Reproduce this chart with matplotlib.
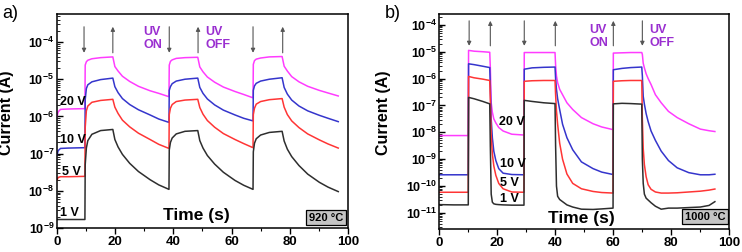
import numpy as np
import matplotlib
matplotlib.use("Agg")
import matplotlib.pyplot as plt
from matplotlib.ticker import LogLocator, NullFormatter, MultipleLocator

plt.rcParams['font.family'] = ['Liberation Sans', 'DejaVu Sans']
plt.rcParams['font.weight'] = 'bold'
plt.rcParams['mathtext.fontset'] = 'custom'
plt.rcParams['mathtext.default'] = 'bf'
plt.rcParams['mathtext.bf'] = 'Liberation Sans:bold'
plt.rcParams['mathtext.rm'] = 'Liberation Sans:bold'

# ---- panel a (920 C), log10 of current in A ----
t_a = [0, 0.4, 1.2, 4, 9.6,
       9.7, 10.1, 10.6, 12, 15, 19.2,
       19.9, 21, 22.5, 25, 28, 32, 35, 38.5,
       38.6, 39.0, 39.6, 41, 44, 48.4,
       49.1, 50.2, 51.7, 54.2, 57.2, 61.2, 64.2, 67.4,
       67.5, 67.9, 68.5, 70, 73, 77.4,
       78.1, 79.2, 80.7, 83.2, 86.2, 90.2, 93.2, 96.7]
v20_a = [-6.01, -5.88, -5.81, -5.80, -5.79,
         -4.62, -4.53, -4.49, -4.45, -4.42, -4.40,
         -4.66, -4.78, -4.92, -5.06, -5.19, -5.31, -5.38, -5.47,
         -4.62, -4.52, -4.48, -4.44, -4.42, -4.41,
         -4.67, -4.80, -4.94, -5.08, -5.21, -5.33, -5.41, -5.50,
         -4.60, -4.50, -4.46, -4.43, -4.40, -4.39,
         -4.65, -4.78, -4.93, -5.07, -5.19, -5.30, -5.37, -5.45]
v10_a = [-7.04, -6.92, -6.86, -6.85, -6.84,
         -5.55, -5.25, -5.15, -5.07, -5.01, -4.97,
         -5.20, -5.36, -5.52, -5.68, -5.82, -5.96, -6.07, -6.16,
         -5.30, -5.20, -5.12, -5.05, -5.00, -4.97,
         -5.22, -5.38, -5.53, -5.69, -5.83, -5.96, -6.05, -6.12,
         -5.30, -5.18, -5.11, -5.05, -5.00, -4.96,
         -5.22, -5.40, -5.56, -5.72, -5.85, -5.97, -6.05, -6.14]
v5_a = [-7.71, -7.64, -7.62, -7.62, -7.61,
        -6.30, -5.85, -5.72, -5.62, -5.57, -5.54,
        -5.75, -5.92, -6.10, -6.28, -6.45, -6.62, -6.75, -6.86,
        -5.95, -5.78, -5.68, -5.60, -5.56, -5.54,
        -5.76, -5.94, -6.11, -6.29, -6.46, -6.62, -6.73, -6.84,
        -5.95, -5.78, -5.67, -5.60, -5.55, -5.52,
        -5.75, -5.95, -6.12, -6.30, -6.47, -6.63, -6.74, -6.85]
v1_a = [-8.77, -8.77, -8.77, -8.77, -8.77,
        -7.30, -6.85, -6.65, -6.48, -6.38, -6.35,
        -6.62, -6.82, -7.02, -7.26, -7.48, -7.70, -7.84, -7.96,
        -6.90, -6.70, -6.58, -6.47, -6.40, -6.38,
        -6.65, -6.85, -7.05, -7.28, -7.50, -7.72, -7.85, -7.96,
        -6.95, -6.72, -6.60, -6.50, -6.43, -6.40,
        -6.66, -6.88, -7.08, -7.32, -7.55, -7.77, -7.90, -8.02]

# ---- panel b (1000 C) ----
t_b = [0, 5, 10.0,
       10.1, 12, 15, 17.4,
       17.6, 17.9, 18.3, 18.8, 19.5, 20.5, 22, 25, 29.2,
       29.3, 32, 36, 39.9,
       40.1, 40.4, 40.8, 41.5, 42.5, 44, 46, 49, 53, 56, 59.9,
       60.0, 63, 66, 69.8,
       70.0, 70.3, 70.7, 71.3, 72, 73, 74.5, 76.5, 79, 82, 86, 90, 93, 95]
v20_b = [-8.12, -8.12, -8.12,
         -4.95, -4.98, -5.00, -5.02,
         -5.60, -6.90, -7.25, -7.50, -7.65, -7.82, -7.95, -8.07, -8.10,
         -5.03, -5.03, -5.03, -5.03,
         -5.50, -5.90, -6.15, -6.40, -6.60, -6.90, -7.15, -7.45, -7.68, -7.80, -7.90,
         -5.05, -5.04, -5.03, -5.03,
         -5.10, -5.43, -5.60, -5.82, -6.00, -6.22, -6.60, -6.90, -7.22, -7.45, -7.68, -7.88, -7.94, -7.97]
v10_b = [-9.58, -9.58, -9.58,
         -5.45, -5.48, -5.54, -5.59,
         -6.30, -7.50, -8.20, -8.70, -9.05, -9.35, -9.52, -9.57, -9.58,
         -5.65, -5.60, -5.58, -5.57,
         -6.00, -6.40, -6.75, -7.15, -7.70, -8.20, -8.65, -9.10, -9.35, -9.48, -9.57,
         -5.67, -5.62, -5.59, -5.57,
         -5.90, -6.66, -6.95, -7.30, -7.60, -7.95, -8.30, -8.70, -9.05, -9.32, -9.50, -9.58, -9.58, -9.56]
v5_b = [-10.23, -10.23, -10.23,
        -5.92, -5.97, -6.02, -6.07,
        -6.80, -8.10, -8.80, -9.25, -9.60, -9.90, -10.10, -10.22, -10.23,
        -6.10, -6.08, -6.07, -6.07,
        -6.60, -7.20, -7.70, -8.40, -9.00, -9.55, -9.90, -10.10, -10.20, -10.24, -10.26,
        -6.10, -6.08, -6.07, -6.07,
        -7.50, -8.60, -9.20, -9.65, -9.95, -10.12, -10.22, -10.26, -10.26, -10.25, -10.22, -10.19, -10.15, -10.11]
v1_b = [-10.69, -10.70, -10.70,
        -6.70, -6.75, -6.85, -6.94,
        -8.50, -10.30, -10.60, -10.66, -10.68, -10.69, -10.70, -10.71, -10.71,
        -6.81, -6.85, -6.90, -6.93,
        -8.50, -10.00, -10.38, -10.50, -10.58, -10.70, -10.78, -10.86, -10.87, -10.85, -10.82,
        -6.94, -6.92, -6.93, -6.95,
        -9.00, -9.90, -10.30, -10.45, -10.52, -10.62, -10.75, -10.86, -10.82, -10.82, -10.80, -10.78, -10.72, -10.58]

labels = ['20 V', '10 V', '5 V', '1 V']
colors = ['#ff3cff', '#3535cc', '#ff3535', '#2e2e2e']

# UV on/off arrow times
down_a = [9.3, 38.6, 67.4]
up_a = [19.2, 48.5, 77.6]
down_b = [10.3, 29.3, 70.0]
up_b = [17.6, 40.0, 60.0]

fig = plt.figure(figsize=(7.42, 2.52), dpi=100)
ax1 = fig.add_axes([0.0768, 0.095, 0.392, 0.849])
ax2 = fig.add_axes([0.592, 0.091, 0.391, 0.853])


def style(ax, ymin, ymax, decades):
    ax.set_yscale('log')
    ax.set_xlim(0, 100)
    ax.set_ylim(ymin, ymax)
    ax.xaxis.set_major_locator(MultipleLocator(20))
    ax.xaxis.set_minor_locator(MultipleLocator(10))
    ax.set_yticks([10.0 ** e for e in decades])
    ax.yaxis.set_minor_locator(LogLocator(base=10, subs=np.arange(2, 10), numticks=100))
    ax.yaxis.set_minor_formatter(NullFormatter())
    ax.tick_params(axis='x', which='major', direction='out', length=4, width=1, labelsize=9.5, pad=2)
    ax.tick_params(axis='x', which='minor', direction='out', length=2.5, width=0.8)
    ax.tick_params(axis='y', which='major', direction='in', length=4, width=1, labelsize=9, pad=2)
    ax.tick_params(axis='y', which='minor', direction='in', length=2, width=0.6)
    for s in ax.spines.values():
        s.set_linewidth(1.1)
    ax.set_ylabel('Current (A)', fontsize=11.5, fontweight='bold')


style(ax1, 1e-9, 10 ** -3.25, range(-9, -3))
style(ax2, 10 ** -11.6, 10 ** -3.6, range(-11, -3))
ax1.yaxis.set_label_coords(-0.147, 0.54)
ax2.yaxis.set_label_coords(-0.168, 0.54)

for vals, c in zip([v20_a, v10_a, v5_a, v1_a], colors):
    ax1.plot(t_a, np.power(10.0, vals), color=c, lw=1.1)
for vals, c in zip([v20_b, v10_b, v5_b, v1_b], colors):
    ax2.plot(t_b, np.power(10.0, vals), color=c, lw=1.1)

# arrows
for ax, downs, ups, ytop, ybot in [(ax1, down_a, up_a, -3.59, -4.29),
                                   (ax2, down_b, up_b, -3.85, -4.78)]:
    for x in downs:
        ax.annotate('', xy=(x, 10 ** ybot), xytext=(x, 10 ** ytop),
                    arrowprops=dict(arrowstyle='-|>', color='#555555', lw=0.8,
                                    mutation_scale=6, shrinkA=0, shrinkB=0))
    for x in ups:
        ax.annotate('', xy=(x, 10 ** ytop), xytext=(x, 10 ** ybot),
                    arrowprops=dict(arrowstyle='-|>', color='#555555', lw=0.8,
                                    mutation_scale=6, shrinkA=0, shrinkB=0))

# voltage labels
for lab, y in zip(labels, [-5.60, -6.63, -7.50, -8.60]):
    ax1.text(1.0 if lab[0] != '5' else 1.8, 10 ** y, lab, fontsize=9, fontweight='bold',
             va='center', ha='left')
for lab, y in zip(labels, [-7.63, -9.17, -9.90, -10.48]):
    ax2.text(20.6 if lab[0] == '2' else 20.9, 10 ** y, lab, fontsize=9, fontweight='bold',
             va='center', ha='left')

purple = '#9a2fd0'
ax1.text(29.6, 0.887, 'UV\nON', transform=ax1.get_xaxis_transform(), color=purple,
         fontsize=9, fontweight='bold', va='center', ha='left', linespacing=1.15)
ax1.text(50.9, 0.887, 'UV\nOFF', transform=ax1.get_xaxis_transform(), color=purple,
         fontsize=9, fontweight='bold', va='center', ha='left', linespacing=1.15)
ax2.text(51.7, 0.895, 'UV\nON', transform=ax2.get_xaxis_transform(), color=purple,
         fontsize=9, fontweight='bold', va='center', ha='left', linespacing=1.15)
ax2.text(72.4, 0.895, 'UV\nOFF', transform=ax2.get_xaxis_transform(), color=purple,
         fontsize=9, fontweight='bold', va='center', ha='left', linespacing=1.15)

ax1.text(0.48, 0.058, 'Time (s)', transform=ax1.transAxes, fontsize=12.5,
         fontweight='bold', ha='center', va='center')
ax2.text(0.489, 0.051, 'Time (s)', transform=ax2.transAxes, fontsize=12.5,
         fontweight='bold', ha='center', va='center')

box = dict(boxstyle='square,pad=0.25', fc='#c4c4c4', ec='black', lw=0.9)
ax1.text(0.985, 0.025, '920 °C', transform=ax1.transAxes, fontsize=8, fontweight='bold',
         ha='right', va='bottom', bbox=box)
ax2.text(0.985, 0.035, '1000 °C', transform=ax2.transAxes, fontsize=8, fontweight='bold',
         ha='right', va='bottom', bbox=box)

fig.text(0.003, 0.945, 'a)', fontsize=13, fontweight='normal', ha='left', va='center')
fig.text(0.519, 0.945, 'b)', fontsize=13, fontweight='normal', ha='left', va='center')

fig.savefig('out.png', dpi=100)
